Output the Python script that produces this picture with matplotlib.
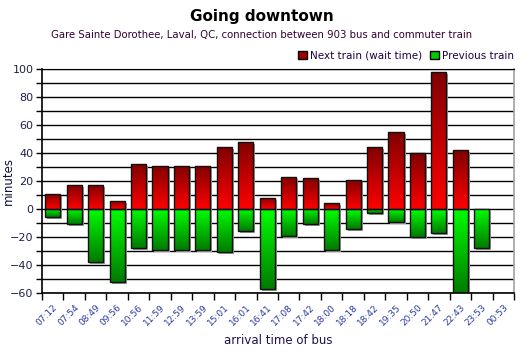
import numpy as np
import matplotlib
matplotlib.use("Agg")
import matplotlib.pyplot as plt
from matplotlib.colors import LinearSegmentedColormap
from matplotlib.patches import Patch, Rectangle
import matplotlib.transforms as mtransforms

times = ["07:12", "07:54", "08:49", "09:56", "10:56", "11:59", "12:59", "13:59",
         "15:01", "16:01", "16:41", "17:08", "17:42", "18:00", "18:18", "18:42",
         "19:35", "20:50", "21:47", "22:43", "23:53", "00:53"]
next_train = [11, 17, 17, 6, 32, 31, 31, 31, 44, 48, 8, 23, 22, 4, 21, 44, 55, 40, 98, 42, 0, 0]
prev_train = [-6, -11, -38, -52, -28, -29, -29, -29, -31, -16, -57, -19, -11, -29, -14, -3, -9, -20, -17, -60, -28, 0]

fig = plt.figure(figsize=(5.24, 3.53), dpi=100)
ax = fig.add_axes([42/524, 1 - 293/353, 472/524, 224/353])

x = np.arange(len(times))
w = 0.7

red_cmap = LinearSegmentedColormap.from_list("r", ["#FF0000", "#800000"])
green_cmap = LinearSegmentedColormap.from_list("g", ["#00FF00", "#007A00"])
grad = np.linspace(0, 1, 256).reshape(-1, 1)

b1 = ax.bar(x, next_train, width=w, color="none", edgecolor="#101010", linewidth=1.0, zorder=3)
b2 = ax.bar(x, prev_train, width=w, color="none", edgecolor="#101010", linewidth=1.0, zorder=3)

shadow_tr = ax.transData + mtransforms.ScaledTranslation(2/100, -2/100, fig.dpi_scale_trans)

for bars, cmap in ((b1, red_cmap), (b2, green_cmap)):
    for p in bars:
        h = p.get_height()
        if h == 0:
            p.set_linewidth(0)
            continue
        x0 = p.get_x()
        x1 = x0 + p.get_width()
        y0, y1 = p.get_y(), p.get_y() + h
        ax.add_patch(Rectangle((x0, y0), p.get_width(), h, transform=shadow_tr,
                               facecolor="#9a9a9a", edgecolor="none", zorder=1.5))
        lo, hi = min(y0, y1), max(y0, y1)
        if h > 0:
            im = ax.imshow(grad, cmap=cmap, extent=[x0, x1, 0, hi], origin="lower",
                           aspect="auto", zorder=2)
        else:
            im = ax.imshow(grad, cmap=cmap, extent=[x0, x1, lo, 0], origin="upper",
                           aspect="auto", zorder=2)
        im.set_clip_path(p)

ax.set_xlim(-0.5, len(times) - 0.5)
ax.set_ylim(-60, 100)
ax.set_yticks(np.arange(-60, 101, 20))
ax.set_yticks(np.arange(-60, 101, 10), minor=True)
ax.yaxis.grid(True, which="both", color="black", linewidth=1.0, zorder=0)
ax.set_axisbelow(True)

ax.set_xticks(x)
ax.set_xticklabels(times, rotation=45, ha="right", rotation_mode="anchor",
                   fontsize=6.5, color="#2a3aa0")
ax.set_xticks(np.arange(-0.5, len(times), 1), minor=True)
ax.tick_params(axis="x", which="major", length=0, pad=7)
ax.tick_params(axis="x", which="minor", length=5, width=1, color="black", direction="out")
ax.tick_params(axis="y", which="both", length=4, width=1, color="black", labelsize=8,
               labelcolor="#20204a", pad=2)

for s in ("left", "bottom"):
    ax.spines[s].set_color("black")
    ax.spines[s].set_linewidth(1.2)
ax.spines["top"].set_color("black")
ax.spines["right"].set_color("#a0a0a0")
ax.spines["right"].set_linewidth(1.2)

ax.set_ylabel("minutes", fontsize=8.5, color="#10103a")
ax.yaxis.set_label_coords(-27/472, 0.5)
ax.set_xlabel("arrival time of bus", fontsize=8.5, color="#20104a", labelpad=5)

fig.text(0.5, 1 - 17/353, "Going downtown", ha="center", va="center",
         fontsize=11, fontweight="bold", color="black")
fig.text(0.5, 1 - 35/353, "Gare Sainte Dorothee, Laval, QC, connection between 903 bus and commuter train",
         ha="center", va="center", fontsize=7.3, color="#300030")

handles = [Patch(facecolor="#A00000", edgecolor="black", label="Next train (wait time)"),
           Patch(facecolor="#00CC00", edgecolor="black", label="Previous train")]
fig.legend(handles=handles, loc="center right", bbox_to_anchor=(1 - 6/524, 1 - 56/353),
           ncol=2, frameon=False, fontsize=7.5, handlelength=0.8, handleheight=0.8,
           handletextpad=0.3, columnspacing=0.8, borderaxespad=0, labelcolor="#200040")

fig.savefig("out.png", dpi=100, facecolor="white")
